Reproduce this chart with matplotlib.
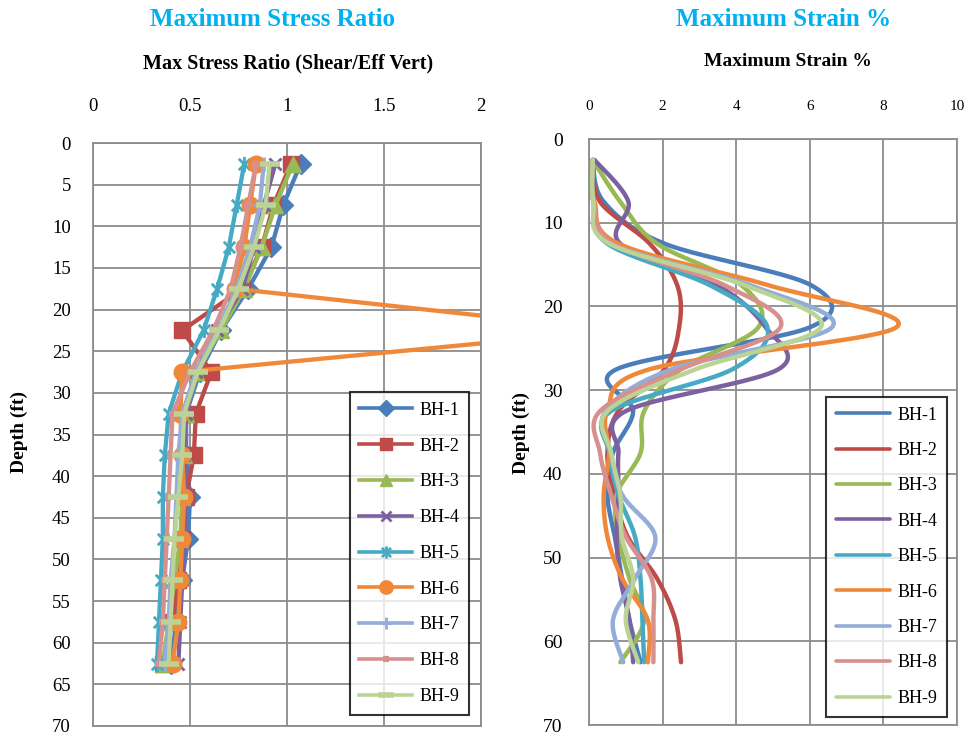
import numpy as np
import matplotlib
matplotlib.use("Agg")
import matplotlib.pyplot as plt
from matplotlib.path import Path

plt.rcParams['font.family'] = ['Liberation Serif', 'DejaVu Serif']

# ---- data -------------------------------------------------------------
depth = [2.5, 7.5, 12.5, 17.5, 22.5, 27.5, 32.5, 37.5, 42.5, 47.5, 52.5, 57.5, 62.5]
series_names = ["BH-1", "BH-2", "BH-3", "BH-4", "BH-5", "BH-6", "BH-7", "BH-8", "BH-9"]

# Maximum stress ratio (shear / effective vertical)
stress_bh1 = [1.07, 0.98, 0.92, 0.80, 0.66, 0.55, 0.48, 0.48, 0.50, 0.49, 0.46, 0.43, 0.40]
stress_bh2 = [1.02, 0.93, 0.87, 0.77, 0.46, 0.61, 0.53, 0.52, 0.48, 0.46, 0.44, 0.41, 0.36]
stress_bh3 = [1.03, 0.94, 0.87, 0.78, 0.66, 0.53, 0.48, 0.47, 0.46, 0.45, 0.42, 0.39, 0.36]
stress_bh4 = [0.94, 0.88, 0.83, 0.77, 0.64, 0.53, 0.48, 0.47, 0.48, 0.47, 0.46, 0.45, 0.44]
stress_bh5 = [0.78, 0.74, 0.70, 0.64, 0.57, 0.46, 0.39, 0.37, 0.36, 0.36, 0.35, 0.34, 0.33]
stress_bh6 = [0.84, 0.81, 0.78, 0.73, 2.70, 0.46, 0.45, 0.46, 0.47, 0.46, 0.45, 0.44, 0.41]
stress_bh7 = [0.88, 0.86, 0.81, 0.74, 0.64, 0.53, 0.46, 0.44, 0.43, 0.42, 0.40, 0.39, 0.37]
stress_bh8 = [0.84, 0.80, 0.76, 0.71, 0.62, 0.50, 0.41, 0.40, 0.39, 0.38, 0.37, 0.36, 0.34]
stress_bh9 = [0.91, 0.89, 0.83, 0.75, 0.65, 0.54, 0.47, 0.46, 0.44, 0.42, 0.41, 0.40, 0.39]

# Maximum strain (%)
strain_bh1 = [0.10, 0.40, 2.05, 6.05, 6.00, 0.75, 1.20, 0.65, 0.50, 0.70, 0.90, 1.10, 1.40]
strain_bh2 = [0.10, 0.30, 1.65, 2.40, 2.45, 2.05, 0.80, 0.50, 0.70, 1.05, 1.85, 2.35, 2.50]
strain_bh3 = [0.10, 0.85, 1.85, 4.15, 4.60, 2.50, 1.50, 1.40, 0.75, 0.80, 1.10, 1.50, 0.85]
strain_bh4 = [0.15, 1.07, 0.85, 3.50, 4.80, 5.15, 1.00, 0.80, 0.80, 0.75, 0.85, 1.10, 1.20]
strain_bh5 = [0.10, 0.12, 0.50, 3.30, 4.85, 3.90, 0.60, 0.55, 0.80, 1.25, 1.40, 1.45, 1.50]
strain_bh6 = [0.10, 0.15, 0.80, 4.90, 8.35, 1.65, 0.50, 0.55, 0.40, 0.50, 0.90, 1.60, 1.60]
strain_bh7 = [0.10, 0.12, 0.60, 4.40, 6.60, 2.25, 0.45, 0.60, 0.90, 1.80, 1.25, 0.65, 0.93]
strain_bh8 = [0.10, 0.12, 0.65, 3.70, 5.20, 2.50, 0.30, 0.30, 0.60, 1.00, 1.70, 1.75, 1.75]
strain_bh9 = [0.10, 0.12, 0.55, 4.25, 6.30, 2.90, 0.50, 0.60, 0.85, 0.89, 1.20, 1.00, 1.34]

stress_data = [stress_bh1, stress_bh2, stress_bh3, stress_bh4, stress_bh5,
               stress_bh6, stress_bh7, stress_bh8, stress_bh9]
strain_data = [strain_bh1, strain_bh2, strain_bh3, strain_bh4, strain_bh5,
               strain_bh6, strain_bh7, strain_bh8, strain_bh9]

stress_ticks = [0, 0.5, 1, 1.5, 2]
stress_tick_labels = ["0", "0.5", "1", "1.5", "2"]
strain_ticks = [0, 2, 4, 6, 8, 10]
depth_ticks_left = list(range(0, 75, 5))
depth_ticks_right = list(range(0, 80, 10))

# ---- styles -----------------------------------------------------------
colors = ["#4A7EBB", "#BE4B48", "#98B954", "#7D60A0", "#46AAC5",
          "#F0883A", "#93ADD8", "#D8908E", "#BBD395"]

star = Path([(0, -1), (0, 1), (-0.75, -0.75), (0.75, 0.75), (-0.75, 0.75), (0.75, -0.75)],
            [Path.MOVETO, Path.LINETO, Path.MOVETO, Path.LINETO, Path.MOVETO, Path.LINETO])
markers = ["D", "s", "^", "x", star, "o", "+", "_", "_"]
msizes = [10, 11, 11, 9, 11, 12, 10, 6, 15]
mews = [1, 1, 1, 2, 2, 1, 2, 4.5, 4]
grid_color = "#8C8C8C"


def catmull_rom(xs, ys, n=24):
    """Smooth curve through the points (uniform Catmull-Rom / Bezier 1/6 rule)."""
    p = np.column_stack([xs, ys]).astype(float)
    ext = np.vstack([p[0], p, p[-1]])
    out = []
    t = np.linspace(0, 1, n, endpoint=False)[:, None]
    for i in range(1, len(ext) - 2):
        p0, p1, p2, p3 = ext[i - 1], ext[i], ext[i + 1], ext[i + 2]
        m1 = (p2 - p0) / 2.0
        m2 = (p3 - p1) / 2.0
        h00 = 2 * t**3 - 3 * t**2 + 1
        h10 = t**3 - 2 * t**2 + t
        h01 = -2 * t**3 + 3 * t**2
        h11 = t**3 - t**2
        out.append(h00 * p1 + h10 * m1 + h01 * p2 + h11 * m2)
    out.append(p[-1][None, :])
    c = np.vstack(out)
    return c[:, 0], c[:, 1]


def style_axes(ax, xlim, xticks, xlabels, ylim, yticks, xfs, yfs, xpad, ypad):
    ax.set_xlim(*xlim)
    ax.set_ylim(*ylim)
    ax.xaxis.tick_top()
    ax.set_xticks(xticks)
    ax.set_xticklabels(xlabels, fontsize=xfs)
    ax.set_yticks(yticks)
    ax.set_yticklabels([str(v) for v in yticks], fontsize=yfs)
    ax.tick_params(axis="x", length=0, pad=xpad)
    ax.tick_params(axis="y", length=0, pad=ypad)
    ax.grid(True, color=grid_color, linewidth=1.3)
    ax.set_axisbelow(True)
    for s in ax.spines.values():
        s.set_color(grid_color)
        s.set_linewidth(1.3)


def style_legend(leg):
    leg.get_frame().set_linewidth(1.5)
    for lh in leg.get_lines():
        lh.set_linewidth(2.6)


fig = plt.figure(figsize=(9.65, 7.38), dpi=100)
fig.patch.set_facecolor("white")

# ---- left: stress ratio -----------------------------------------------
axL = fig.add_axes([93 / 965, 12 / 738, 388 / 965, 583 / 738])
style_axes(axL, (0, 2), stress_ticks, stress_tick_labels, (70, 0), depth_ticks_left,
           13.5, 13.5, 20, 16)
for name, vals, c, m, ms, mw in zip(series_names, stress_data, colors, markers, msizes, mews):
    axL.plot(vals, depth, color=c, linewidth=3.1, marker=m, markersize=ms,
             markeredgewidth=mw, markerfacecolor=c, markeredgecolor=c, label=name)
legL = axL.legend(loc="lower right", bbox_to_anchor=(0.969, 0.019), fontsize=13,
                  frameon=True, fancybox=False, edgecolor="black", borderpad=0.55,
                  labelspacing=1.04, handlelength=2.9, handletextpad=0.4,
                  borderaxespad=0, markerscale=0.8)
style_legend(legL)

# ---- right: strain ----------------------------------------------------
axR = fig.add_axes([589 / 965, 13 / 738, 368 / 965, 586 / 738])
style_axes(axR, (0, 10), strain_ticks, [str(v) for v in strain_ticks], (70, 0),
           depth_ticks_right, 11, 14, 19, 19)
for name, vals, c in zip(series_names, strain_data, colors):
    sx, sy = catmull_rom(vals, depth)
    axR.plot(sx, sy, color=c, linewidth=3.2, solid_capstyle="round", label=name)
legR = axR.legend(loc="lower right", bbox_to_anchor=(0.973, 0.014), fontsize=13,
                  frameon=True, fancybox=False, edgecolor="black", borderpad=0.55,
                  labelspacing=1.02, handlelength=3.0, handletextpad=0.4,
                  borderaxespad=0)
style_legend(legR)

# ---- titles and axis labels -------------------------------------------
title_color = "#00B0F0"
fig.text(272 / 965, 1 - 19 / 738, "Maximum Stress Ratio", ha="center", va="center",
         fontsize=18, fontweight="bold", color=title_color)
fig.text(288 / 965, 1 - 63 / 738, "Max Stress Ratio (Shear/Eff Vert)", ha="center",
         va="center", fontsize=14.5, fontweight="bold", color="black")
fig.text(784 / 965, 1 - 19 / 738, "Maximum Strain %", ha="center", va="center",
         fontsize=18, fontweight="bold", color=title_color)
fig.text(788 / 965, 1 - 61 / 738, "Maximum Strain %", ha="center", va="center",
         fontsize=14, fontweight="bold", color="black")
fig.text(19 / 965, 1 - 432 / 738, "Depth (ft)", ha="center", va="center", rotation=90,
         fontsize=14, fontweight="bold")
fig.text(521 / 965, 1 - 433 / 738, "Depth (ft)", ha="center", va="center", rotation=90,
         fontsize=14, fontweight="bold")

fig.savefig("out.png", dpi=100, facecolor="white")
